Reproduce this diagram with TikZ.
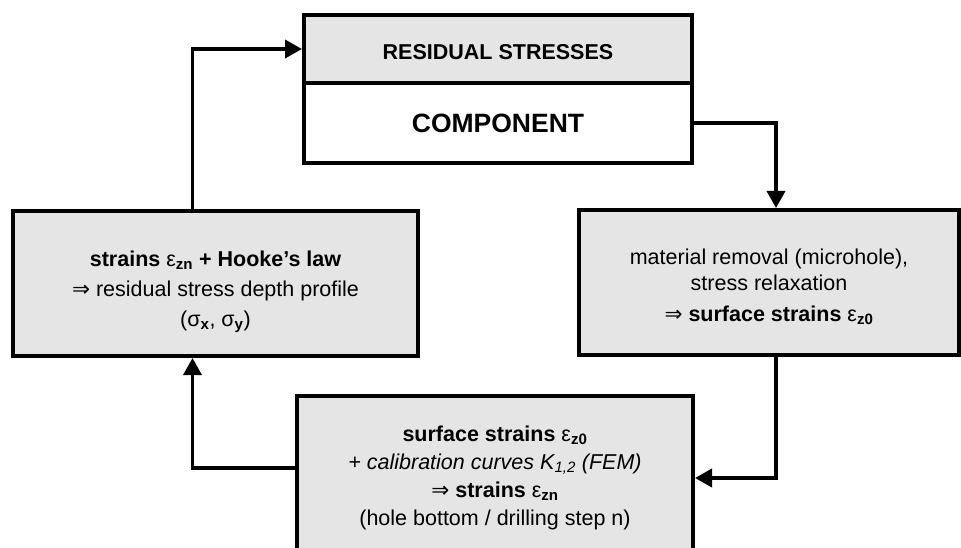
\documentclass[tikz,border=0pt]{standalone}
\usepackage{fontspec}
\setmainfont{Liberation Sans}
\newfontfamily\arrowfont{DejaVu Sans}
\usetikzlibrary{arrows.meta}
\newcommand{\impl}{{\arrowfont\mdseries ⇒}}
\newcommand{\lowsub}[1]{\textsubscript{\bfseries #1}}
\newcommand{\eps}{{\mdseries ε}}

\begin{document}
\begin{tikzpicture}[x=1pt,y=1pt,
	box/.style={draw,line width=4pt,fill=gray!20,align=center,inner sep=0pt,
		font=\fontsize{21.5}{26}\selectfont},
	link/.style={line width=3.5pt,-{Triangle[length=17pt,width=18pt]}}]
	\clip (0,0) rectangle (961,547);
	\node (rs) at (498,498) [box, minimum width=388pt, minimum height=68pt] {\rule{0pt}{21pt}\bfseries RESIDUAL STRESSES};
	\node (comp) at (498,424) [box, fill=white, minimum width=388pt, minimum height=80pt,
		font=\fontsize{26.5}{30}\selectfont\bfseries] {COMPONENT};
	\node (hooke) at (215.5,263.5) [box, minimum width=405pt, minimum height=145pt]
		{\rule{0pt}{32pt}{\bfseries strains \eps\lowsub{zn} + Hooke’s law}\\[4pt]
		 \impl{} residual stress depth profile\\[4pt]
		 (σ\lowsub{x}, σ\lowsub{y})};
	\node (rem) at (769,264.5) [box, minimum width=380pt, minimum height=145pt]
		{\rule{0pt}{24pt}material removal (microhole),\\
		 stress relaxation\\[5pt]
		 \impl{} {\bfseries surface strains \eps\lowsub{z0}}};
	\node (fem) at (495,69) [box, minimum width=396pt, minimum height=164pt,
		font=\fontsize{21.5}{28}\selectfont]
		{{\bfseries surface strains \eps\lowsub{z0}}\\
		 {\itshape + calibration curves K\textsubscript{1,2} (FEM)}\\
		 \impl{} {\bfseries strains \eps\lowsub{zn}}\\
		 (hole bottom / drilling step n)};
	\draw[link] (comp.east) -| ([xshift=7pt]rem.north);
	\draw[link] ([xshift=7pt]rem.south) |- (fem.east);
	\draw[link] ([yshift=10pt]fem.west) -| ([xshift=-23pt]hooke.south);
	\draw[link] ([xshift=-23pt]hooke.north) |- (rs.west);
\end{tikzpicture}
\end{document}
